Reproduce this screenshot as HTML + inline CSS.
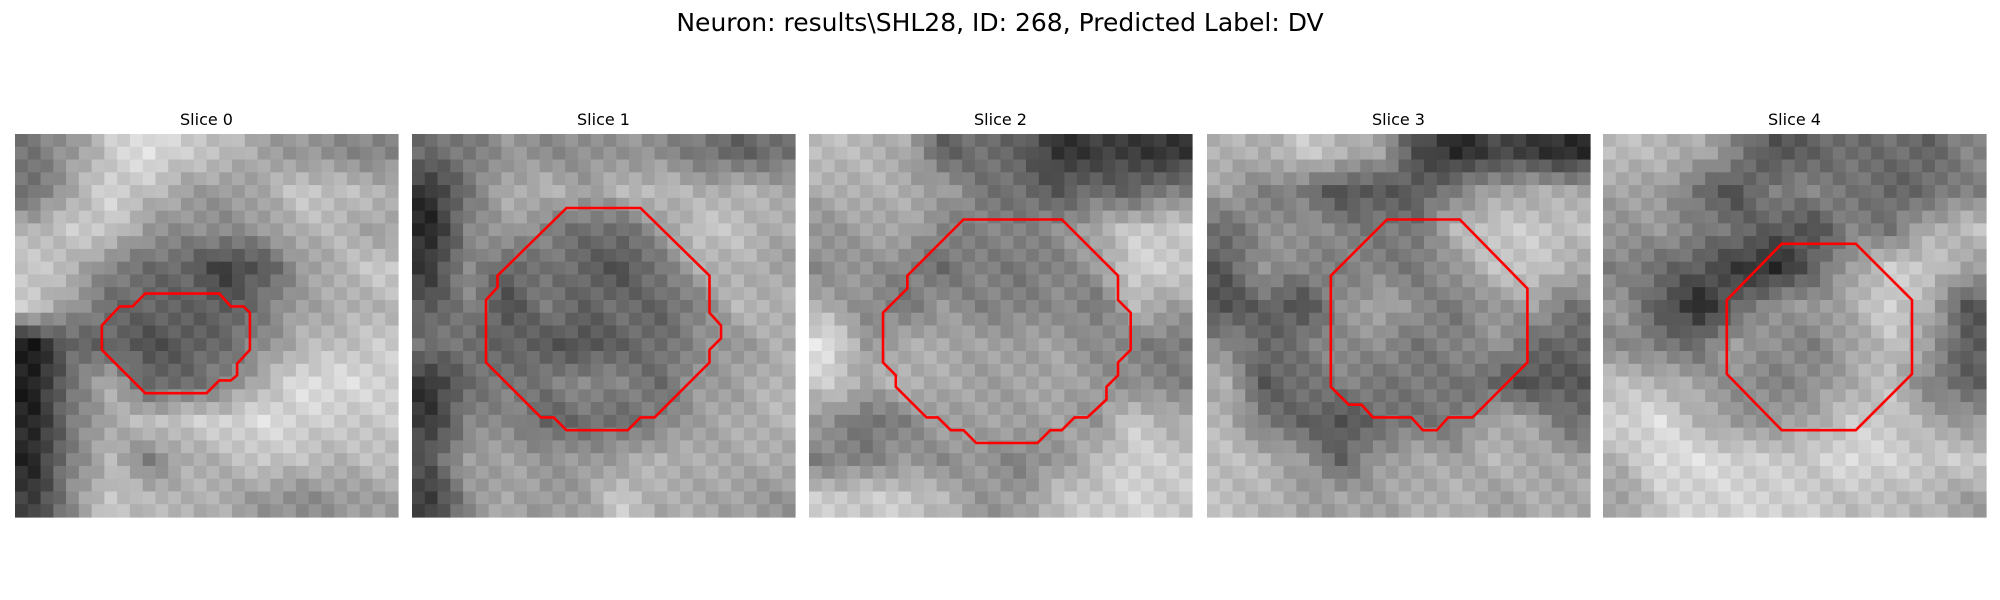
<!DOCTYPE html>
<html><head><meta charset="utf-8"><style>
body{margin:0;background:#fff;}
svg{display:block;font-family:"DejaVu Sans","Liberation Sans",sans-serif;}
</style></head><body>
<svg id="fig" width="2000" height="600" viewBox="0 0 2000 600">
<text x="1000" y="31" text-anchor="middle" font-size="25" fill="#000">Neuron: results\SHL28, ID: 268, Predicted Label: DV</text>
<g id="panels"></g>
</svg>
<script>
const sliceTitles = ["Slice 0","Slice 1","Slice 2","Slice 3","Slice 4"];
const img0 = [
[120,150,200,225,200,190,160,150,140,130],
[110,170,210,190,160,150,170,200,190,180],
[180,200,200,150,140,140,150,180,180,160],
[200,180,130,110,100,60,90,150,180,200],
[200,150,110,100,100,90,120,160,170,180],
[30,100,100,80,90,110,140,180,190,200],
[30,120,170,100,110,130,180,220,220,210],
[40,120,170,190,200,210,220,210,200,200],
[40,130,180,130,170,180,200,190,180,190],
[60,140,200,180,180,170,150,140,150,160]];
const img1 = [
[110,120,150,140,140,150,140,120,100,110],
[50,120,170,180,160,180,190,170,180,170],
[40,130,160,130,110,110,150,200,190,170],
[60,140,100,120,100,80,120,170,180,160],
[90,130,80,120,100,110,100,130,180,180],
[120,110,100,90,80,100,110,140,150,170],
[50,110,120,120,140,130,110,150,160,180],
[60,130,140,100,110,110,130,160,170,180],
[90,160,160,150,150,160,180,170,170,170],
[60,140,170,150,160,200,170,170,160,150]];
const img2 = [
[190,180,170,100,110,100,50,60,60,50],
[170,180,170,160,120,110,90,110,100,130],
[150,160,170,130,130,130,140,170,200,200],
[140,150,130,110,130,120,130,150,210,200],
[170,140,120,150,130,130,140,120,180,160],
[230,150,170,170,160,160,160,140,130,120],
[200,170,180,170,160,160,170,150,140,130],
[150,110,130,160,160,160,160,150,200,170],
[130,130,150,140,150,130,150,180,210,200],
[200,200,200,180,150,150,190,200,210,200]];
const img3 = [
[180,170,200,180,160,80,40,70,60,40],
[160,130,120,80,90,90,130,160,170,170],
[110,140,150,130,120,120,180,200,200,190],
[90,150,130,130,130,120,150,190,200,170],
[80,100,80,140,170,140,120,150,160,120],
[140,100,120,140,140,120,130,150,110,100],
[170,90,110,130,120,120,120,100,80,90],
[180,120,100,80,110,120,120,170,160,110],
[190,180,150,100,150,170,160,180,170,160],
[190,180,160,160,160,170,180,160,170,170]];
const img4 = [
[190,180,170,130,80,100,110,110,100,130],
[160,160,110,80,130,130,120,100,110,130],
[150,150,130,110,90,80,130,120,170,190],
[130,110,90,60,40,100,160,200,200,160],
[150,90,40,100,150,150,170,210,170,90],
[140,120,110,160,140,130,160,190,160,90],
[190,180,160,140,130,140,170,190,130,100],
[210,220,180,150,150,170,200,200,170,150],
[180,220,220,210,200,200,220,210,200,200],
[160,200,210,210,210,200,190,190,180,160]];
const roi0 = [[10.2,12.5],[16,12.5],[16.9,13.5],[17.9,13.5],[18.4,14],[18.4,16.9],[17.4,18],[17.4,18.9],[16.9,19.3],[16,19.3],[15,20.3],[10.2,20.3],[6.8,16.9],[6.8,15],[8.2,13.5],[9.2,13.5]];
const roi1 = [[12.1,5.8],[17.9,5.8],[23.3,11.1],[23.3,14],[24.2,15],[24.2,16],[23.3,16.9],[23.3,17.9],[19,22.2],[17.9,22.2],[16.9,23.2],[12.1,23.2],[11.1,22.2],[10.1,22.2],[5.8,17.9],[5.8,13],[6.7,12],[6.7,11.1]];
const roi2 = [[12.1,6.7],[19.8,6.7],[24.2,11.1],[24.2,13],[25.2,14],[25.2,16.9],[24.2,17.9],[24.2,18.9],[23.3,19.8],[23.3,20.8],[21.8,22.2],[20.8,22.2],[19.8,23.2],[18.9,23.2],[17.9,24.2],[13.1,24.2],[12.1,23.2],[11.1,23.2],[10.1,22.2],[9.2,22.2],[6.8,19.8],[6.8,18.9],[5.8,17.9],[5.8,14],[7.7,12.1],[7.7,11.1]];
const roi3 = [[14.1,6.7],[19.8,6.7],[25.1,12.1],[25.1,17.9],[20.8,22.2],[18.9,22.2],[18,23.2],[16.9,23.2],[16,22.2],[13,22.2],[12.1,21.2],[11.1,21.2],[9.7,19.8],[9.7,11.1]];
const roi4 = [[14,8.6],[19.8,8.6],[24.2,13],[24.2,18.8],[19.8,23.2],[14,23.2],[9.7,18.8],[9.7,13]];
const images=[img0,img1,img2,img3,img4], rois=[roi0,roi1,roi2,roi3,roi4];
const panelX=[15,412,809,1207,1603], PY=134, PS=383, N=30;
const NS="http://www.w3.org/2000/svg";
function sample(g,x,y){
  const c=g.length; const fx=Math.min(Math.max(x*c/N-0.5,0),c-1), fy=Math.min(Math.max(y*c/N-0.5,0),c-1);
  const x0=Math.floor(fx),y0=Math.floor(fy),x1=Math.min(x0+1,c-1),y1=Math.min(y0+1,c-1),tx=fx-x0,ty=fy-y0;
  return g[y0][x0]*(1-tx)*(1-ty)+g[y0][x1]*tx*(1-ty)+g[y1][x0]*(1-tx)*ty+g[y1][x1]*tx*ty;
}
const root=document.getElementById('panels');
images.forEach((g,p)=>{
  const grp=document.createElementNS(NS,'g');
  
  
  const t=document.createElementNS(NS,'text');
  t.setAttribute('x',panelX[p]+PS/2);t.setAttribute('y',PY-9);t.setAttribute('text-anchor','middle');t.setAttribute('font-size','16');
  t.textContent=sliceTitles[p];
  
  
  grp.appendChild(t);
  const cs=PS/N;
  const im=document.createElementNS(NS,'g');
  
  
  for(let y=0;y<N;y++)for(let x=0;x<N;x++){
    const v=Math.round(sample(g,x+0.5,y+0.5)+(((x*7+y*13)%5)-2)*6);
    const r=document.createElementNS(NS,'rect');
    r.setAttribute('x',(panelX[p]+x*cs).toFixed(2));r.setAttribute('y',(PY+y*cs).toFixed(2));
    r.setAttribute('width',(cs+0.6).toFixed(2));r.setAttribute('height',(cs+0.6).toFixed(2));
    const c=Math.max(0,Math.min(255,v));r.setAttribute('fill','rgb('+c+','+c+','+c+')');
    im.appendChild(r);
  }
  grp.appendChild(im);
  const pl=document.createElementNS(NS,'polygon');
  pl.setAttribute('points',rois[p].map(q=>(panelX[p]+q[0]*cs).toFixed(1)+','+(PY+q[1]*cs).toFixed(1)).join(' '));
  pl.setAttribute('fill','none');pl.setAttribute('stroke','#ff0000');pl.setAttribute('stroke-width','2.6');
  
  
  grp.appendChild(pl);
  root.appendChild(grp);
});
</script>
</body></html>
